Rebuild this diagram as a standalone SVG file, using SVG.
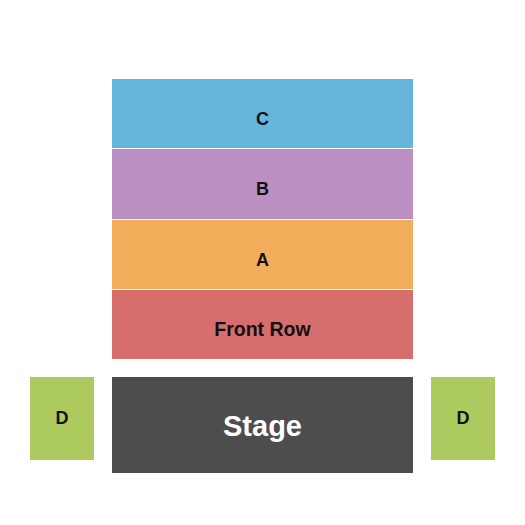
<svg xmlns="http://www.w3.org/2000/svg" width="525" height="525" viewBox="0 0 525 525">
<style>
text{font-family:"Liberation Sans",Arial,sans-serif;font-weight:bold;text-anchor:middle}
.l{font-size:18px;fill:#111}
.f{font-size:19.5px;fill:#111}
.s{font-size:29px;fill:#fff}
</style>
<rect width="525" height="525" fill="#fff"/>
<g id="section-C"><rect x="112" y="79" width="301" height="69" fill="#66B6DC"/><text class="l" x="262.5" y="125">C</text></g>
<g id="section-B"><rect x="112" y="149" width="301" height="70" fill="#BB8FC1"/><text class="l" x="262.5" y="195">B</text></g>
<g id="section-A"><rect x="112" y="220" width="301" height="69" fill="#F2AE5A"/><text class="l" x="262.5" y="266">A</text></g>
<g id="section-front-row"><rect x="112" y="290" width="301" height="69" fill="#D76E6E"/><text class="f" x="262.5" y="336">Front Row</text></g>
<g id="stage"><rect x="112" y="377" width="301" height="96" fill="#4D4D4D"/><text class="s" x="262.5" y="436">Stage</text></g>
<g id="section-D-left"><rect x="30" y="377" width="64" height="83" fill="#ADCA5E"/><text class="l" x="62" y="424">D</text></g>
<g id="section-D-right"><rect x="431" y="377" width="64" height="83" fill="#ADCA5E"/><text class="l" x="463" y="424">D</text></g>
<g id="connectors"/>
</svg>
